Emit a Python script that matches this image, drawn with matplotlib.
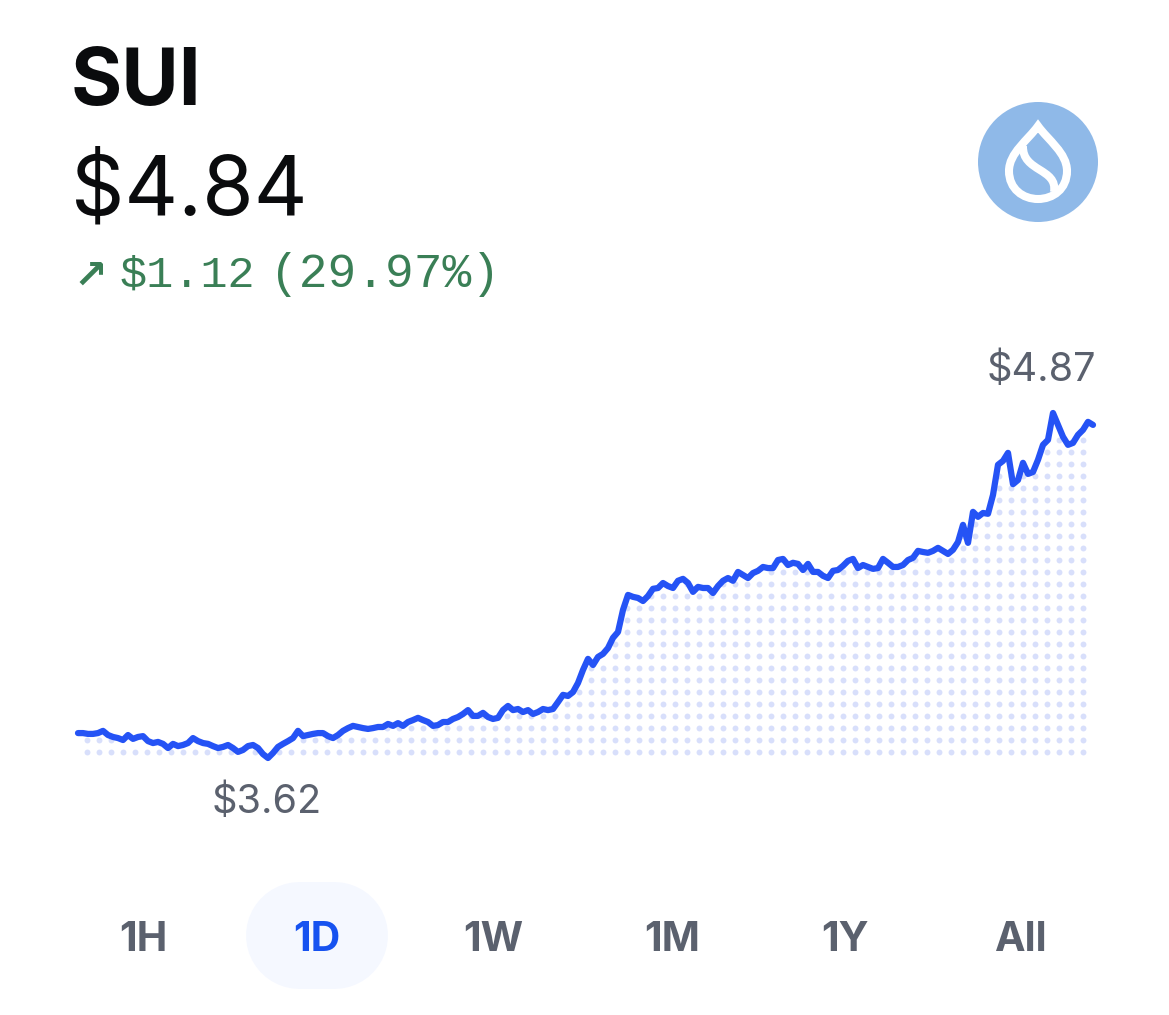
# SUI price card, 1D view
import numpy as np
import matplotlib
matplotlib.use("Agg")
import matplotlib.pyplot as plt
from matplotlib.patches import Circle, PathPatch
from matplotlib.path import Path

# prices, one reading per step along the day
prices = [
    3.710, 3.710, 3.707, 3.707, 3.710, 3.718, 3.703, 3.696, 3.692, 3.685, 3.703, 3.689, 3.696, 3.699, 3.681,
    3.674, 3.678, 3.671, 3.656, 3.671, 3.663, 3.667, 3.674, 3.692, 3.681, 3.674, 3.671, 3.663, 3.656, 3.660,
    3.667, 3.656, 3.642, 3.649, 3.663, 3.667, 3.656, 3.634, 3.620, 3.638, 3.660, 3.671, 3.681, 3.692, 3.718,
    3.699, 3.703, 3.707, 3.710, 3.710, 3.699, 3.692, 3.703, 3.718, 3.728, 3.736, 3.732, 3.728, 3.725, 3.728,
    3.732, 3.732, 3.743, 3.736, 3.746, 3.736, 3.750, 3.757, 3.765, 3.757, 3.750, 3.736, 3.739, 3.750, 3.750,
    3.761, 3.768, 3.779, 3.793, 3.772, 3.772, 3.783, 3.768, 3.761, 3.765, 3.793, 3.808, 3.793, 3.797, 3.786,
    3.793, 3.779, 3.786, 3.797, 3.793, 3.797, 3.822, 3.848, 3.844, 3.858, 3.891, 3.938, 3.978, 3.956, 3.985,
    3.996, 4.017, 4.054, 4.075, 4.155, 4.209, 4.202, 4.198, 4.187, 4.205, 4.231, 4.234, 4.252, 4.241, 4.234,
    4.260, 4.267, 4.252, 4.220, 4.238, 4.234, 4.234, 4.216, 4.241, 4.260, 4.270, 4.260, 4.292, 4.281, 4.270,
    4.288, 4.296, 4.310, 4.306, 4.306, 4.335, 4.339, 4.317, 4.325, 4.321, 4.299, 4.321, 4.292, 4.292, 4.278,
    4.270, 4.296, 4.299, 4.314, 4.332, 4.339, 4.306, 4.317, 4.310, 4.303, 4.306, 4.339, 4.325, 4.310, 4.310,
    4.317, 4.335, 4.343, 4.368, 4.364, 4.361, 4.368, 4.379, 4.368, 4.357, 4.372, 4.400, 4.462, 4.397, 4.509,
    4.491, 4.505, 4.502, 4.570, 4.679, 4.693, 4.722, 4.609, 4.624, 4.686, 4.646, 4.653, 4.697, 4.751, 4.769,
    4.866, 4.823, 4.780, 4.751, 4.758, 4.787, 4.805, 4.834, 4.823,
]
tabs = ["1H", "1D", "1W", "1M", "1Y", "All"]
selected_tab = "1D"

BLUE = "#2553f5"
GREY = "#5b616e"
GREEN = "#3a7f56"
BLACK = "#0a0b0d"

fig = plt.figure(figsize=(11.69, 10.15), dpi=100, facecolor="white")

# page layer in pixels
page = fig.add_axes([0, 0, 1, 1])
page.set_xlim(0, 1169)
page.set_ylim(1015, 0)
page.axis("off")

# chart layer, x 78-1093 and y 758-413 on the page
ax = fig.add_axes([78 / 1169, 1 - 758 / 1015, (1093 - 78) / 1169, (758 - 413) / 1015])
ax.set_xlim(0, len(prices) - 1)
ax.set_ylim(min(prices), max(prices))
ax.axis("off")
ax.patch.set_alpha(0)

steps = np.arange(len(prices))
step_per_px = (len(prices) - 1) / 1015
price_per_px = (max(prices) - min(prices)) / 345

# dotted area under the line, 12 px grid
dot_x = (np.arange(84) * 12 + 8.7) * step_per_px
dot_y = min(prices) + (np.arange(29) * 12 + 6) * price_per_px
gx, gy = np.meshgrid(dot_x, dot_y)
under = gy < np.interp(gx, steps, prices) - 2 * price_per_px
ax.scatter(gx[under], gy[under], s=18, color="#d8dffb", linewidths=0, zorder=1, clip_on=False)

ax.plot(steps, prices, color=BLUE, lw=4.5, solid_joinstyle="round", solid_capstyle="round", zorder=2, clip_on=False)

# header text
page.text(71, 105, "SUI", fontsize=56.5, fontweight="bold", family="Inter", color=BLACK, va="baseline")
page.text(71, 214, "$4.84", fontsize=60, family="Inter", color=BLACK, va="baseline")
page.text(73, 288, "\u2197", fontsize=29, fontweight="bold", family="DejaVu Sans", color=GREEN, va="baseline")
page.text(120, 287, "$1.12", fontsize=32.5, family="Liberation Mono", color=GREEN, va="baseline")
page.text(270, 287, "(29.97%)", fontsize=34.5, family="Liberation Mono", color=GREEN, va="baseline")

# high / low labels
page.text(1041, 381, "$4.87", fontsize=28.5, family="Inter", color=GREY, ha="center", va="baseline")
page.text(267, 813, "$3.62", fontsize=28.5, family="Inter", color=GREY, ha="center", va="baseline")

# range tabs, pill behind the selected one
page.plot([299, 334], [934.5, 934.5], color="#f5f8ff", lw=77, solid_capstyle="round", zorder=0)
tab_x = [143, 317, 493, 672, 845, 1020]
for name, x in zip(tabs, tab_x):
    page.text(x, 951, name, fontsize=29.5, fontweight="bold", family="Inter",
              color="#1652f0" if name == selected_tab else GREY, ha="center", va="baseline")

# token icon
page.add_patch(Circle((1038, 162), 60, fc="#8fb9e8", ec="none"))
drop = Path(
    [(1038, 126), (1028, 140), (1009, 153), (1009, 171), (1009, 189), (1023, 199), (1038, 199),
     (1053, 199), (1067, 189), (1067, 171), (1067, 153), (1048, 140), (1038, 126), (1038, 126)],
    [Path.MOVETO] + [Path.CURVE4] * 12 + [Path.CLOSEPOLY],
)
page.add_patch(PathPatch(drop, fc="none", ec="white", lw=5.8, joinstyle="miter"))
swirl = Path(
    [(1023, 146), (1022, 172), (1058, 168), (1054, 192)],
    [Path.MOVETO, Path.CURVE4, Path.CURVE4, Path.CURVE4],
)
page.add_patch(PathPatch(swirl, fc="none", ec="white", lw=5.8, capstyle="butt"))

fig.savefig("out.png", dpi=100, facecolor="white")
